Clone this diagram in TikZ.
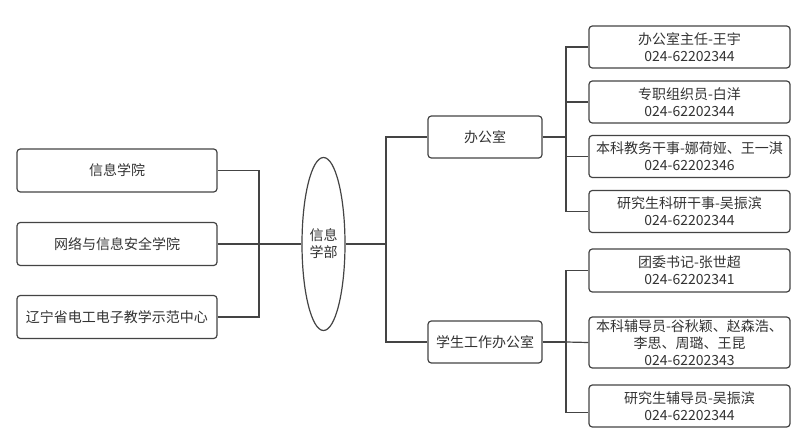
\documentclass[tikz,border=0pt]{standalone}
\usepackage{fontspec}
\setmainfont{Noto Sans CJK SC}
\usetikzlibrary{shapes.geometric}
\definecolor{txt}{HTML}{333333}
\definecolor{ln}{HTML}{444444}
\tikzset{
  box/.style={draw=ln, line width=0.9pt, rounded corners=2.5pt, inner sep=0pt, align=center, text=txt, font=\fontsize{10.5}{12.8}\selectfont},
  conn/.style={draw=ln, line width=0.9pt},
}
\begin{document}
\begin{tikzpicture}[x=0.75pt,y=-0.75pt]
\useasboundingbox (0,0) rectangle (800,439);
\fill[white] (0,0) rectangle (800,439);
% left boxes
\node[box, minimum width=150pt, minimum height=32.25pt] (l1) at (117,170.5) {信息学院};
\node[box, minimum width=150pt, minimum height=32.25pt] (l2) at (117,244) {网络与信息安全学院};
\node[box, minimum width=150pt, minimum height=32.25pt] (l3) at (117,317) {辽宁省电工电子教学示范中心};
% hub
\node[box, ellipse, rounded corners=0pt, minimum width=32.25pt, minimum height=129.75pt] (hub) at (323.5,244) {信息\\学部};
% middle
\node[box, minimum width=85.5pt, minimum height=31.5pt] (off) at (485,137) {办公室};
\node[box, minimum width=85.5pt, minimum height=31.5pt] (stu) at (485,342) {学生工作办公室};
% right
\node[box, minimum width=150.75pt, minimum height=31.5pt] (a1) at (689.5,47) {办公室主任-王宇\\024-62202344};
\node[box, minimum width=150.75pt, minimum height=31.5pt] (a2) at (689.5,102) {专职组织员-白洋\\024-62202344};
\node[box, minimum width=150.75pt, minimum height=31.5pt] (a3) at (689.5,156.5) {本科教务干事-娜荷娅、王一淇\\024-62202346};
\node[box, minimum width=150.75pt, minimum height=31.5pt] (a4) at (689.5,211.5) {研究生科研干事-吴振滨\\024-62202344};
\node[box, minimum width=150.75pt, minimum height=32.25pt] (b1) at (689.5,270.5) {团委书记-张世超\\024-62202341};
\node[box, minimum width=150.75pt, minimum height=38.25pt] (b2) at (689.5,342.5) {本科辅导员-谷秋颖、赵森浩、\\李思、周璐、王昆\\024-62202343};
\node[box, minimum width=150.75pt, minimum height=31.5pt] (b3) at (689.5,406) {研究生辅导员-吴振滨\\024-62202344};
% junctions
\coordinate (jl) at (259,244);
\coordinate (jm) at (386,244);
\coordinate (ja) at (566,137);
\coordinate (jb) at (566,342);
% connectors
\draw[conn] (l1.east) -| (jl);
\draw[conn] (l3.east) -| (jl);
\draw[conn] (l2.east) -- (hub.west);
\draw[conn] (hub.east) -- (jm);
\draw[conn] (jm) |- (off.west);
\draw[conn] (jm) |- (stu.west);
\draw[conn] (off.east) -- (ja);
\draw[conn] (ja) |- (a1.west);
\draw[conn] (ja) |- (a2.west);
\draw[conn] (ja) |- (a3.west);
\draw[conn] (ja) |- (a4.west);
\draw[conn] (stu.east) -- (jb);
\draw[conn] (jb) |- (b1.west);
\draw[conn] (jb) -- (b2.west);
\draw[conn] (jb) |- ([yshift=11.25pt]b3.south west);
\end{tikzpicture}
\end{document}
